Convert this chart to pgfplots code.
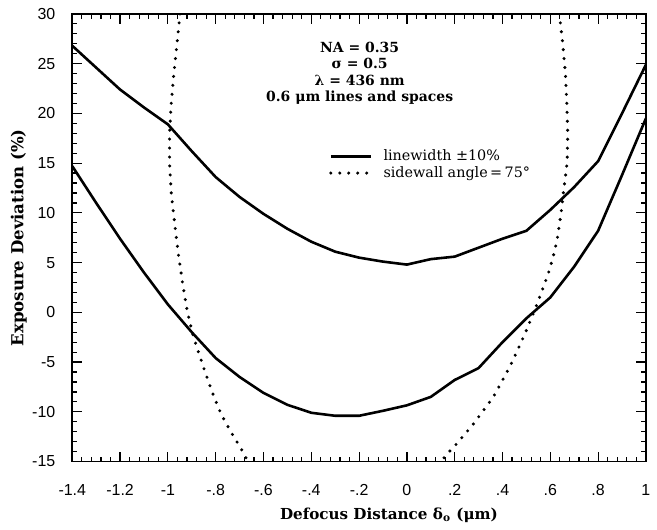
\documentclass[border=0pt]{standalone}
\usepackage{fontspec}
\setmainfont{DejaVu Serif}
\setsansfont{Liberation Sans}
\usepackage{pgfplots}
\pgfplotsset{compat=1.18}

\begin{document}
\begin{tikzpicture}
\begin{axis}[
    scale only axis, width=287.75pt, height=224.5pt,
    xmin=-1.4, xmax=1, ymin=-15, ymax=30,
    xtick={-1.4,-1.2,-1,-0.8,-0.6,-0.4,-0.2,0,0.2,0.4,0.6,0.8,1},
    xticklabels={-1.4,-1.2,-1,-.8,-.6,-.4,-.2,0,.2,.4,.6,.8,1},
    ytick={-15,-10,-5,0,5,10,15,20,25,30},
    yticklabels={-15,-10,-5,0,5,10,15,20,25,30},
    minor x tick num=4, minor y tick num=4,
    tick align=inside, major tick length=5pt, minor tick length=2.5pt,
    tick style={line width=0.6pt, black},
    axis line style={line width=0.8pt},
    tick label style={font=\sffamily\fontsize{8}{9}\selectfont},
    xticklabel style={yshift=-8pt},
    yticklabel style={xshift=-5pt},
    xlabel={\textbf{Defocus Distance δ\textsubscript{o} (μm)}},
    ylabel={\textbf{Exposure Deviation (\%)}},
    xlabel style={font=\fontsize{7.6}{9}\selectfont, at={(axis description cs:0.552,0)}, anchor=center, yshift=-27pt},
    ylabel style={font=\fontsize{8.3}{9}\selectfont, at={(axis description cs:-0.093,0.5)}, anchor=center},
    legend style={draw=none, fill=none, at={(rel axis cs:0.447,0.663)}, anchor=west,
        inner sep=0pt, font=\fontsize{7.2}{8}\selectfont,
        nodes={inner sep=0.6pt, text height=5.6pt, text depth=1.5pt},
        /tikz/column 1/.style={column sep=5pt},
        row sep=0pt},
    legend cell align=left,
    legend image code/.code={\draw[#1] (0pt,0pt) -- (20pt,0pt);},
]
\addplot[black, line width=1.3pt] coordinates {
(-1.4,26.8) (-1.3,24.6) (-1.2,22.4) (-1.1,20.6) (-1.0,18.9) (-0.9,16.2)
(-0.8,13.6) (-0.7,11.6) (-0.6,9.9) (-0.5,8.4) (-0.4,7.1) (-0.3,6.1)
(-0.2,5.5) (-0.1,5.1) (0,4.8) (0.1,5.35) (0.2,5.6) (0.3,6.5) (0.4,7.4)
(0.5,8.2) (0.6,10.3) (0.7,12.6) (0.8,15.2) (0.9,20.0) (1.0,24.9)};
\addlegendentry{linewidth ±10\%}
\addplot[black, line width=1.7pt, dash pattern=on 0pt off 4.5pt, line cap=round] coordinates {
(-0.949,30) (-0.962,27) (-0.975,24) (-0.986,21) (-0.993,18) (-0.993,15)
(-0.986,12) (-0.972,9) (-0.957,6) (-0.939,3) (-0.918,0) (-0.896,-2.2)
(-0.872,-4) (-0.847,-5.8) (-0.815,-8) (-0.778,-10.2) (-0.737,-12)
(-0.694,-13.7) (-0.665,-15)};
\addlegendentry{sidewall angle\,=\,75°}
\addplot[black, line width=1.3pt, forget plot] coordinates {
(-1.4,14.7) (-1.3,11.0) (-1.2,7.4) (-1.1,4.0) (-1.0,0.8) (-0.9,-2.0)
(-0.8,-4.6) (-0.7,-6.5) (-0.6,-8.1) (-0.5,-9.3) (-0.4,-10.1) (-0.3,-10.4)
(-0.2,-10.4) (-0.1,-9.9) (0,-9.35) (0.1,-8.5) (0.2,-6.8) (0.3,-5.6)
(0.4,-3.0) (0.5,-0.6) (0.6,1.5) (0.7,4.6) (0.8,8.2) (0.9,13.8) (1.0,19.5)};
\addplot[black, line width=1.7pt, dash pattern=on 0pt off 4.5pt, line cap=round, forget plot] coordinates {
(0.638,30) (0.652,27) (0.663,24) (0.669,21) (0.673,18) (0.670,15)
(0.657,12.5) (0.645,10) (0.629,7.35) (0.611,5.5) (0.591,3.85) (0.542,0.67)
(0.5,-1.8) (0.465,-3.7) (0.43,-5.5) (0.362,-8.5) (0.279,-11.2)
(0.209,-13.2) (0.16,-14.45) (0.145,-15)};
\node[align=center, anchor=north, inner sep=0pt,
      font=\bfseries\fontsize{7}{8.25}\selectfont]
  at (rel axis cs:0.501,0.938) {NA = 0.35\\σ = 0.5\\λ = 436 nm\\0.6 μm lines and spaces};
\coordinate (sw) at (rel axis cs:0,0);
\coordinate (ne) at (rel axis cs:1,1);
\end{axis}
\path ([shift={(-36.25pt,-32.5pt)}]sw) rectangle ([shift={(4.5pt,7pt)}]ne);
\end{tikzpicture}
\end{document}
